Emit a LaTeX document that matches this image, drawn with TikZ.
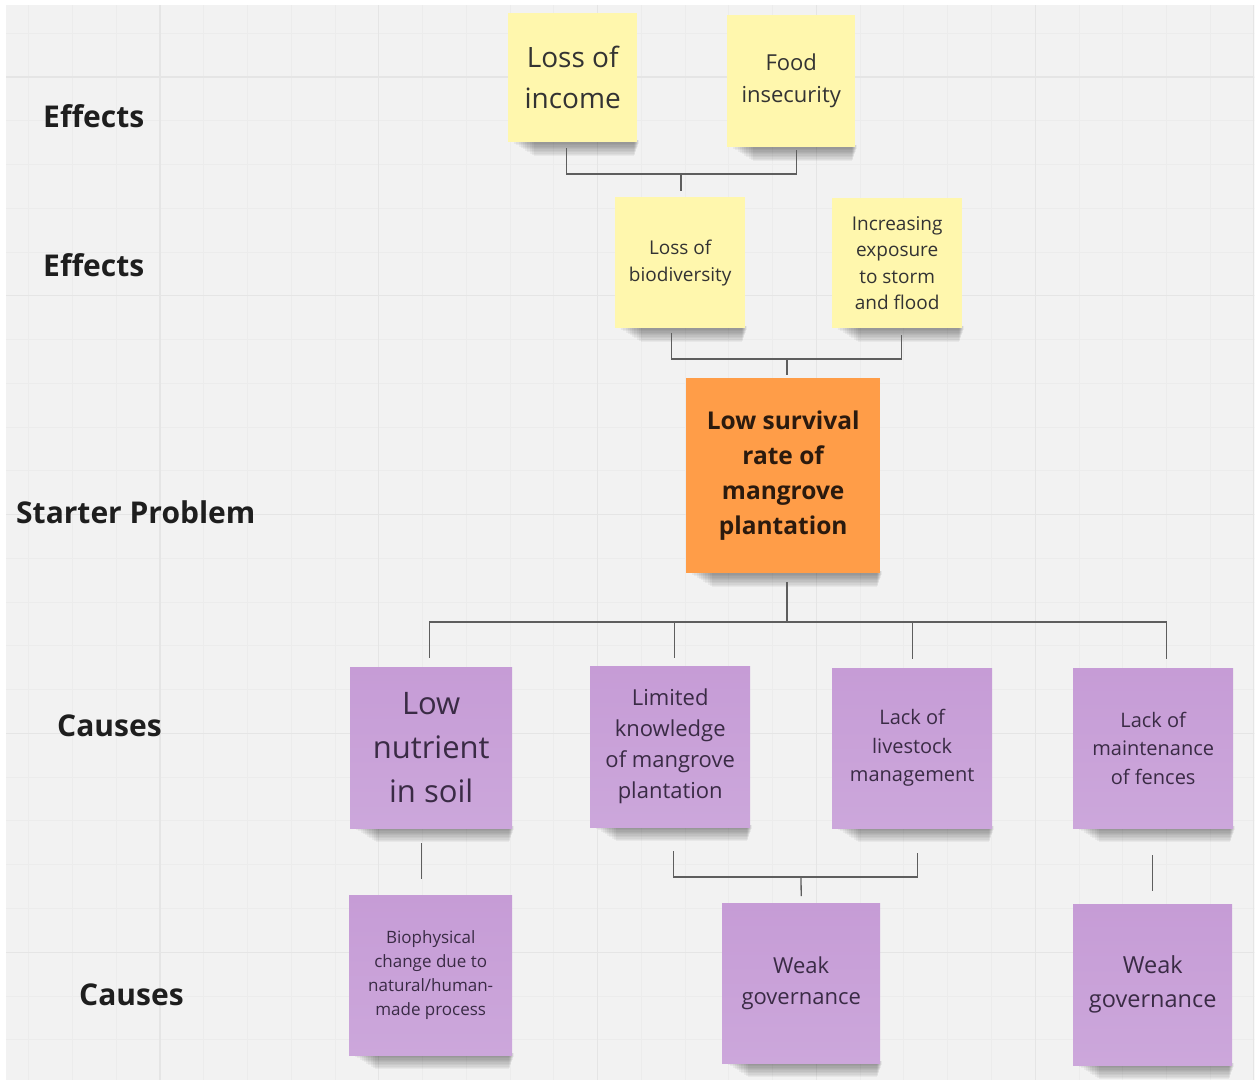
\documentclass[tikz,border=0pt]{standalone}
\usepackage{fontspec}
\setmainfont{Open Sans}

\definecolor{canvas}{HTML}{F2F2F2}
\definecolor{minorline}{HTML}{ECECEC}
\definecolor{majorline}{HTML}{E5E5E5}
\definecolor{noteyellow}{HTML}{FFF7AD}
\definecolor{noteorange}{HTML}{FF9D48}
\definecolor{notepurpletop}{HTML}{C69CD6}
\definecolor{notepurplebot}{HTML}{CCA7DB}
\definecolor{wire}{HTML}{5E5E5E}
\definecolor{labelink}{HTML}{1E1E1E}
\definecolor{yellowink}{HTML}{333333}
\definecolor{orangeink}{HTML}{2B1A0E}
\definecolor{purpleink}{HTML}{3A2B45}

\pgfdeclarelayer{gridlayer}
\pgfdeclarelayer{shadowlayer}
\pgfsetlayers{gridlayer,shadowlayer,main}

\tikzset{
  sticky/.style 2 args={anchor=north west, inner sep=2pt, align=center,
    minimum width=#1pt, minimum height=#2pt},
  yellownote/.style={fill=noteyellow, text=yellowink},
  orangenote/.style={fill=noteorange, text=orangeink},
  purplenote/.style={top color=notepurpletop, bottom color=notepurplebot, text=purpleink},
  rowlabel/.style={anchor=west, inner sep=0pt, text=labelink,
    font=\fontsize{30}{35}\selectfont\bfseries},
  conn/.style={draw=wire, line width=1.3pt},
  shadowstrip/.style={fill=black, opacity=0.045},
}

\begin{document}
\begin{tikzpicture}[x=1pt,y=-1pt]
\useasboundingbox (0,0) rectangle (1257,1080);

% whiteboard canvas with its grid
\begin{pgfonlayer}{gridlayer}
  \fill[white] (0,0) rectangle (1257,1080);
  \fill[canvas] (6,5) rectangle (1254,1080);
  \begin{scope}
    \clip (6,5) rectangle (1254,1080);
    \foreach \i in {0,...,31} {
      \draw[minorline, line width=0.9pt] ({-58.8+\i*43.76},0) -- ++(0,1080);
      \draw[minorline, line width=0.9pt] (0,{-141.8+\i*43.76}) -- ++(1257,0);
    }
    \foreach \i in {0,...,6} {
      \draw[majorline, line width=1.3pt] ({-58.8+\i*218.8},0) -- ++(0,1080);
      \draw[majorline, line width=1.3pt] (0,{-141.8+\i*218.8}) -- ++(1257,0);
    }
  \end{scope}
\end{pgfonlayer}

% row labels
\node[rowlabel] (lbleffa) at (43,116) {Effects};
\node[rowlabel] (lbleffb) at (43,265) {Effects};
\node[rowlabel] (lblstart) at (16,512) {Starter Problem};
\node[rowlabel] (lblcausa) at (57,726) {Causes};
\node[rowlabel] (lblcausb) at (79,995) {Causes};

% effects
\node[sticky={129}{129}, yellownote, font=\fontsize{28}{41}\selectfont]
  (loi) at (508,13) {Loss of\\income};
\node[sticky={128}{132}, yellownote, font=\fontsize{22}{32}\selectfont]
  (fi) at (727,15) {Food\\insecurity};
\node[sticky={130}{131}, yellownote, font=\fontsize{19}{27}\selectfont]
  (lob) at (615,197) {Loss of\\biodiversity};
\node[sticky={130}{130}, yellownote, font=\fontsize{19}{26.5}\selectfont]
  (isf) at (832,198) {Increasing\\exposure\\to storm\\and flood};

% starter problem
\node[sticky={194}{195}, orangenote, font=\fontsize{24.5}{35}\selectfont\bfseries]
  (lsr) at (686,378) {Low survival\\rate of\\mangrove\\plantation};

% causes
\node[sticky={162}{161}, purplenote, font=\fontsize{31}{44}\selectfont]
  (p1) at (350,667) {Low\\nutrient\\in soil};
\node[sticky={160}{161}, purplenote, font=\fontsize{22}{31}\selectfont]
  (p2) at (590,666) {Limited\\knowledge\\of mangrove\\plantation};
\node[sticky={160}{160}, purplenote, font=\fontsize{20}{28.5}\selectfont]
  (p3) at (832,668) {Lack of\\livestock\\management};
\node[sticky={160}{160}, purplenote, font=\fontsize{20}{28.5}\selectfont]
  (p4) at (1073,668) {Lack of\\maintenance\\of fences};
\node[sticky={163}{160}, purplenote, font=\fontsize{17}{24}\selectfont]
  (p5) at (349,895) {Biophysical\\change due to\\natural/human-\\made process};
\node[sticky={158}{160}, purplenote, font=\fontsize{22}{31}\selectfont]
  (p6) at (722,903) {Weak\\governance};
\node[sticky={159}{161}, purplenote, font=\fontsize{23.5}{34}\selectfont]
  (p7) at (1073,904) {Weak\\governance};

% soft shadows under the sticky notes, built from stacked translucent strips
\begin{pgfonlayer}{shadowlayer}
  \foreach \n in {loi,fi,lob,isf,lsr,p1,p2,p3,p4,p5,p6,p7} {
    \foreach \k in {1,...,10} {
      \fill[shadowstrip] ([xshift={4+2.2*\k},yshift=2]\n.south west)
        rectangle ([xshift={2-0.5*\k},yshift={-1.4*\k}]\n.south east);
    }
  }
\end{pgfonlayer}

% junction points
\coordinate (j1) at (681,174);
\coordinate (j2) at (787,359);
\coordinate (j3) at (787,622);
\coordinate (j4) at (801,877);

% connectors between the effect levels
\draw[conn] ([xshift=-6pt,yshift=-6pt]loi.south) |- (j1);
\draw[conn] ([xshift=5pt,yshift=-3pt]fi.south) |- (j1);
\draw[conn] (j1) -- ([yshift=6pt]j1 |- lob.north);

\draw[conn] ([xshift=-9pt,yshift=-5pt]lob.south) |- (j2);
\draw[conn] ([xshift=4pt,yshift=-7pt]isf.south) |- (j2);
\draw[conn] (j2) -- ([yshift=3pt]j2 |- lsr.north);

% connectors from the starter problem to its causes
\draw[conn] ([yshift=-9pt]j3 |- lsr.south) -- (j3);
\draw[conn] (j3) -| ([xshift=-2pt,yshift=9pt]p1.north);
\draw[conn] (j3) -| ([xshift=4pt,yshift=8pt]p2.north);
\draw[conn] (j3) -| ([xshift=0pt,yshift=9pt]p3.north);
\draw[conn] (j3) -| ([xshift=13pt,yshift=9pt]p4.north);

% connectors to the root causes
\draw[conn] ([xshift=-10pt,yshift=-15pt]p1.south) -- ([xshift=-9.5pt,yshift=16pt]p5.north);
\draw[conn] ([xshift=3pt,yshift=-24pt]p2.south) |- (j4);
\draw[conn] ([xshift=5pt,yshift=-25pt]p3.south) |- (j4);
\draw[conn] (j4) -- ([yshift=7pt]p6.north);
\draw[conn] ([xshift=-1pt,yshift=-27pt]p4.south) -- ([xshift=-0.5pt,yshift=13pt]p7.north);
\end{tikzpicture}
\end{document}
